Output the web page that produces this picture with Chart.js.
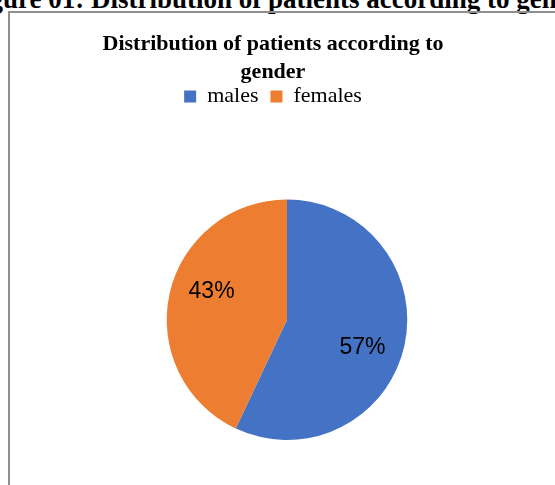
<!DOCTYPE html>
<html><head><meta charset="utf-8">
<script src="https://cdn.jsdelivr.net/npm/chart.js@4.4.1/dist/chart.umd.min.js"></script>
<style>
html,body{margin:0;padding:0;width:555px;height:485px;overflow:hidden;background:#fff;}
#caption{position:absolute;top:-14.1px;left:0;white-space:nowrap;font:bold 27px "Liberation Serif","Times New Roman",serif;color:#000;line-height:27px;}
#frame{position:absolute;left:8px;top:11px;width:700px;height:700px;border-left:2px solid #8f8f8f;border-top:2px solid #8f8f8f;}
#chart{position:absolute;left:10px;top:13px;}
</style></head>
<body>
<div id="caption">Figure 01: Distribution of patients according to gender</div>
<div id="frame"></div>
<canvas id="chart" width="526" height="427"></canvas>
<script>
const CAPTION_LEAD = "Figure 01: ";
const TITLE_LINES = ["Distribution of patients according to", "gender"];
const CATEGORIES = ["males", "females"];
const VALUES = [57, 43];
const COLORS = ["#4472C4", "#ED7D31"];

// place caption so that the clipped part matches the reference
(function(){
  const c = document.createElement('canvas').getContext('2d');
  c.font = 'bold 27px "Liberation Serif"';
  const w = c.measureText(CAPTION_LEAD).width;
  document.getElementById('caption').style.left = (91 - w) + 'px';
})();

const plotArea = {
  id: 'plotArea',
  afterLayout(chart, args, opts) {
    const a = chart.chartArea;
    const left = a.left + opts.shiftX, right = a.right + opts.shiftX;
    const top = a.top + opts.gapTop, bottom = a.bottom;
    Object.assign(a, {left, right, top, bottom, width: right - left, height: bottom - top});
  }
};

const pctLabels = {
  id: 'pctLabels',
  afterDatasetsDraw(chart, args, opts) {
    const ctx = chart.ctx;
    const meta = chart.getDatasetMeta(0);
    const data = chart.data.datasets[0].data;
    const total = data.reduce((s, v) => s + v, 0);
    ctx.save();
    ctx.font = opts.font;
    ctx.fillStyle = opts.color;
    ctx.textAlign = 'center';
    ctx.textBaseline = 'middle';
    meta.data.forEach((arc, i) => {
      const p = arc.getProps(['x', 'y', 'startAngle', 'endAngle', 'outerRadius'], true);
      const ang = (p.startAngle + p.endAngle) / 2 + opts.angleShift;
      const d = p.outerRadius * opts.radial;
      ctx.fillText(Math.round(data[i] / total * 100) + '%', p.x + Math.cos(ang) * d, p.y + Math.sin(ang) * d);
    });
    ctx.restore();
  }
};

new Chart(document.getElementById('chart'), {
  type: 'pie',
  data: {
    labels: CATEGORIES,
    datasets: [{
      data: VALUES,
      backgroundColor: COLORS,
      borderWidth: 0,
      clip: false
    }]
  },
  options: {
    responsive: false,
    animation: false,
    layout: { padding: 0 },
    plugins: {
      title: {
        display: true,
        text: TITLE_LINES,
        color: '#000',
        font: { family: '"Liberation Serif", "Times New Roman", serif', size: 22, weight: 'bold', lineHeight: 1.25 },
        padding: { top: 18, bottom: -12.5 }
      },
      legend: {
        display: true,
        position: 'top',
        labels: {
          boxWidth: 12,
          boxHeight: 12,
          padding: 12,
          color: '#000',
          font: { family: '"Liberation Serif", "Times New Roman", serif', size: 22 }
        }
      },
      tooltip: { enabled: false },
      plotArea: { shiftX: 14, gapTop: 82 },
      pctLabels: { font: '23px "Liberation Sans", Arial, sans-serif', color: '#000', angleShift: 8 * Math.PI / 180, radial: 0.67 }
    }
  },
  plugins: [plotArea, pctLabels]
});
</script>
</body></html>
